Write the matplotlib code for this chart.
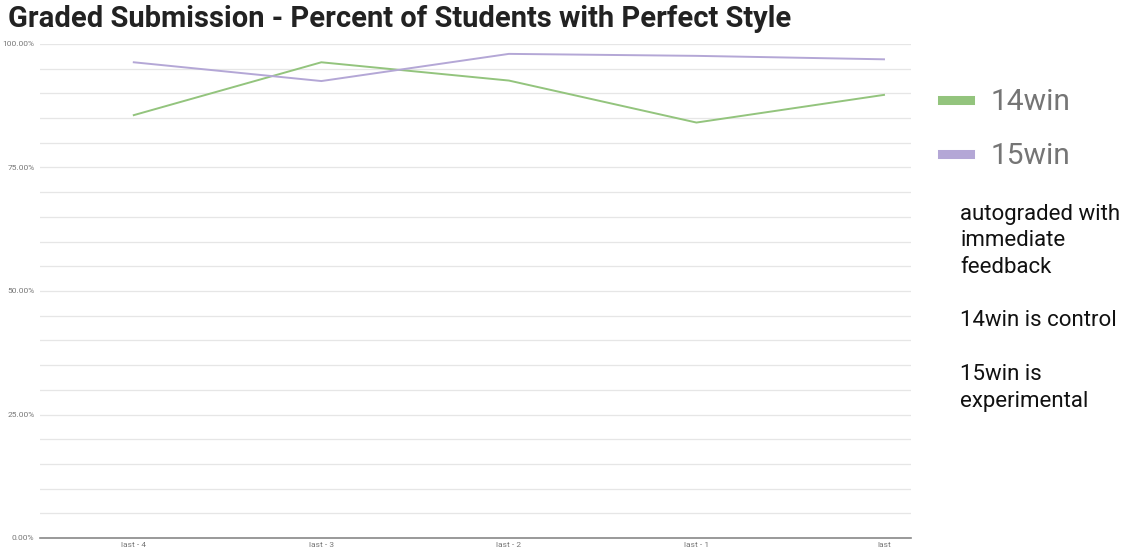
import matplotlib
matplotlib.use("Agg")
import matplotlib.pyplot as plt
from matplotlib.ticker import MultipleLocator, FuncFormatter

plt.rcParams['font.family'] = ['Roboto', 'DejaVu Sans']

categories = ["last - 4", "last - 3", "last - 2", "last - 1", "last"]
win14 = [85.6, 96.3, 92.6, 84.1, 89.7]
win15 = [96.3, 92.5, 98.0, 97.6, 96.9]
series_names = ["14win", "15win"]
title = "Graded Submission - Percent of Students with Perfect Style"
notes = ["autograded with\nimmediate\nfeedback", "14win is control", "15win is\nexperimental"]

W, H = 1131, 550
fig = plt.figure(figsize=(W / 100, H / 100), dpi=100)
ax = fig.add_axes([40 / W, 1 - 538 / H, (911 - 40) / W, (538 - 44) / H])

x = list(range(len(categories)))
green = "#93c47d"
purple = "#b4a7d6"
ax.plot(x, win14, color=green, lw=1.4, label=series_names[0])
ax.plot(x, win15, color=purple, lw=1.4, label=series_names[1])

ax.set_xlim(-0.5, 4.144)
ax.set_ylim(0, 100)
ax.yaxis.set_major_locator(MultipleLocator(25))
ax.yaxis.set_minor_locator(MultipleLocator(5))
ax.yaxis.set_major_formatter(FuncFormatter(lambda v, p: f"{v:.2f}%"))
ax.grid(axis='y', which='both', color='#e6e6e6', lw=0.9)
ax.set_axisbelow(True)
ax.set_xticks(x)
ax.set_xticklabels(categories)
ax.tick_params(axis='both', which='both', length=0, labelsize=6, labelcolor='#777777')
ax.tick_params(axis='y', pad=4)
ax.tick_params(axis='x', pad=3)
for s in ['top', 'right', 'left']:
    ax.spines[s].set_visible(False)
ax.spines['bottom'].set_color('#888888')
ax.spines['bottom'].set_linewidth(1.2)

fig.text(8 / W, 1 - 19 / H, title, fontsize=21, fontweight='bold', color='#222222',
         ha='left', va='center')

leg = ax.legend(loc='upper left', bbox_to_anchor=(942 / W, 1 - 88 / H), bbox_transform=fig.transFigure,
                frameon=False, fontsize=21.5, handlelength=0.95, handletextpad=0.67,
                labelspacing=0.88, labelcolor='#757575', borderpad=0, borderaxespad=0)
for ln in leg.get_lines():
    ln.set_linewidth(6.5)

fig.text(960 / W, 1 - 241 / H, notes[0], fontsize=16, color='#111111', ha='left', va='center',
         linespacing=1.33)
fig.text(960 / W, 1 - 321 / H, notes[1], fontsize=16, color='#111111', ha='left', va='center')
fig.text(960 / W, 1 - 388 / H, notes[2], fontsize=16, color='#111111', ha='left', va='center',
         linespacing=1.33)

fig.savefig("out.png", dpi=100)
